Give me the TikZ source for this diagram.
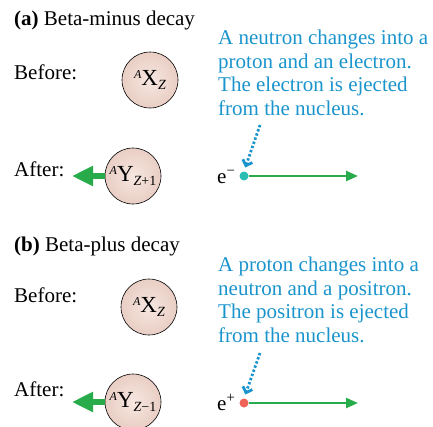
\documentclass[tikz,border=0pt]{standalone}
\usepackage{fontspec}
\setmainfont{Liberation Serif}
\usetikzlibrary{arrows.meta}
\definecolor{NoteBlue}{RGB}{26,148,204}
\definecolor{PushGreen}{RGB}{40,172,75}
\definecolor{NucLight}{RGB}{246,231,225}
\definecolor{NucDark}{RGB}{233,206,196}
\definecolor{ElecTeal}{RGB}{40,190,180}
\definecolor{PosiRed}{RGB}{238,98,88}
\NewDocumentCommand{\Nucleus}{m m}{%
    \raisebox{7pt}{\fontsize{12}{12}\selectfont\itshape A}#1%
    \raisebox{-4.5pt}{\fontsize{14}{14}\selectfont #2}%
}
\tikzset{
    lefttext/.style={font=\fontsize{21}{23.5}\selectfont, anchor=base west, inner sep=0pt},
    notetext/.style={lefttext, text=NoteBlue, align=left},
    nucleus/.style={circle, draw=black, line width=0.6pt, shading=radial,
        inner color=NucLight, outer color=NucDark, minimum size=56pt,
        inner sep=0pt, font=\fontsize{23}{23}\selectfont},
    particle/.style={circle, inner sep=0pt, minimum size=9pt},
    recoil/.style={PushGreen, line width=6pt, -{Triangle[length=21pt, width=19pt]}},
    emitted/.style={PushGreen, line width=2.4pt, -{Triangle[length=12pt, width=10pt]}},
    hint/.style={NoteBlue, line width=2.8pt, dash pattern=on 2.4pt off 2pt,
        shorten >=4pt, -{Straight Barb[length=5pt, width=10pt]}}
}

\begin{document}
\begin{tikzpicture}[x=1pt, y=-1pt]
\useasboundingbox (0,0) rectangle (433,426);

% (a) beta-minus
\begin{scope}[name prefix=A-]
    \node[lefttext] (title) at (14,25) {\textbf{(a)} Beta-minus decay};
    \node[lefttext] (before) at (14,79) {Before:};
    \node[lefttext] (after) at (14,176) {After:};
    \node[nucleus] (parent) at (150,80) {\Nucleus{X}{\itshape Z}};
    \node[nucleus] (daughter) at (133,176) {\Nucleus{Y}{\itshape Z\upshape+1}};
    % base of a multi-line node = its last line
    \node[notetext] (note) at (218,115) {A neutron changes into a\\
        proton and an electron.\\The electron is ejected\\from the nucleus.};
    \node[particle, fill=ElecTeal] (beta) at (244,176) {};
    \node[lefttext] (symbol) at (217,183) {e\textsuperscript{−}};
    \coordinate (recoil-end) at (72,176);
    \coordinate (track-end) at (358,176);
    \coordinate (hint-start) at (260,125);
\end{scope}
\draw[recoil] (A-daughter.west) -- (A-recoil-end);
\draw[emitted] (A-beta.east) -- (A-track-end);
\draw[hint] (A-hint-start) -- (A-beta.north);

% (b) beta-plus
\begin{scope}[name prefix=B-]
    \node[lefttext] (title) at (14,251) {\textbf{(b)} Beta-plus decay};
    \node[lefttext] (before) at (14,302) {Before:};
    \node[lefttext] (after) at (14,396) {After:};
    \node[nucleus] (parent) at (149,307) {\Nucleus{X}{\itshape Z}};
    \node[nucleus] (daughter) at (133,402) {\Nucleus{Y}{\itshape Z\upshape−1}};
    \node[notetext] (note) at (218,342) {A proton changes into a\\
        neutron and a positron.\\The positron is ejected\\from the nucleus.};
    \node[particle, fill=PosiRed] (beta) at (244,403) {};
    \node[lefttext] (symbol) at (217,410) {e\textsuperscript{+}};
    \coordinate (recoil-end) at (72,402);
    \coordinate (track-end) at (358,403);
    \coordinate (hint-start) at (260,353);
\end{scope}
\draw[recoil] (B-daughter.west) -- (B-recoil-end);
\draw[emitted] (B-beta.east) -- (B-track-end);
\draw[hint] (B-hint-start) -- (B-beta.north);
\end{tikzpicture}
\end{document}
